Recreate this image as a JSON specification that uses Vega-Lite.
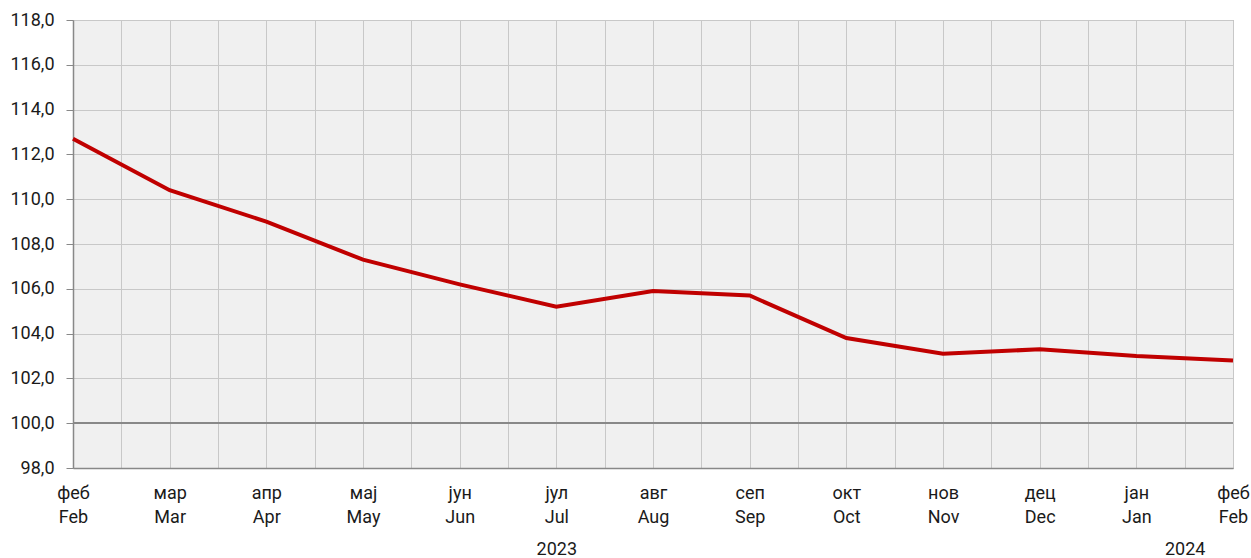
{
  "$schema": "https://vega.github.io/schema/vega-lite/v6.json",
  "width": 1160,
  "height": 448,
  "autosize": {"type": "none"},
  "padding": {"left": 73, "top": 20, "right": 18, "bottom": 90},
  "background": "#ffffff",
  "config": {
    "view": {"fill": "#f0f0f0", "stroke": "#999999", "strokeWidth": 1},
    "font": "Roboto, sans-serif",
    "axis": {
      "labelFont": "Roboto, sans-serif",
      "labelFontSize": 18,
      "labelFontWeight": "normal",
      "labelColor": "#1a1a1a",
      "gridColor": "#c8c8c8",
      "gridWidth": 1,
      "gridOpacity": 1,
      "domainColor": "#888888",
      "domainWidth": 1.5,
      "title": null
    }
  },
  "data": {
    "values": [
      {"i": 0, "month": "Feb 2023", "value": 112.7},
      {"i": 1, "month": "Mar 2023", "value": 110.4},
      {"i": 2, "month": "Apr 2023", "value": 109.0},
      {"i": 3, "month": "May 2023", "value": 107.3},
      {"i": 4, "month": "Jun 2023", "value": 106.2},
      {"i": 5, "month": "Jul 2023", "value": 105.2},
      {"i": 6, "month": "Aug 2023", "value": 105.9},
      {"i": 7, "month": "Sep 2023", "value": 105.7},
      {"i": 8, "month": "Oct 2023", "value": 103.8},
      {"i": 9, "month": "Nov 2023", "value": 103.1},
      {"i": 10, "month": "Dec 2023", "value": 103.3},
      {"i": 11, "month": "Jan 2024", "value": 103.0},
      {"i": 12, "month": "Feb 2024", "value": 102.8}
    ]
  },
  "resolve": {"axis": {"x": "independent"}},
  "layer": [
    {
      "mark": {"type": "line", "color": "#c00000", "strokeWidth": 4, "strokeJoin": "miter", "clip": false},
      "encoding": {
        "x": {
          "field": "i",
          "type": "quantitative",
          "scale": {"domain": [0, 12], "nice": false, "zero": false},
          "axis": {
            "orient": "bottom",
            "grid": true,
            "values": [0, 0.5, 1, 1.5, 2, 2.5, 3, 3.5, 4, 4.5, 5, 5.5, 6, 6.5, 7, 7.5, 8, 8.5, 9, 9.5, 10, 10.5, 11, 11.5, 12],
            "ticks": false,
            "labelPadding": 16,
            "labelLineHeight": 24,
            "labelFlush": false,
            "labelOverlap": false,
            "labelBound": false,
            "labelExpr": "datum.value % 1 != 0 ? '' : [['феб','мар','апр','мај','јун','јул','авг','сеп','окт','нов','дец','јан','феб'][datum.value], ['Feb','Mar','Apr','May','Jun','Jul','Aug','Sep','Oct','Nov','Dec','Jan','Feb'][datum.value]]"
          }
        },
        "y": {
          "field": "value",
          "type": "quantitative",
          "scale": {"domain": [98, 118], "nice": false, "zero": false},
          "axis": {
            "grid": true,
            "values": [98, 100, 102, 104, 106, 108, 110, 112, 114, 116, 118],
            "tickSize": 7,
            "tickColor": "#888888",
            "labelPadding": 12,
            "labelExpr": "replace(format(datum.value, '.1f'), '.', ',')"
          }
        }
      }
    },
    {
      "mark": {"type": "rule", "color": "#888888", "strokeWidth": 1.5},
      "encoding": {"y": {"datum": 100, "type": "quantitative"}}
    },
    {
      "mark": {"type": "line", "opacity": 0},
      "encoding": {
        "x": {
          "field": "i",
          "type": "quantitative",
          "axis": {
            "orient": "bottom",
            "values": [5, 11.5],
            "ticks": false,
            "domain": false,
            "grid": false,
            "labelPadding": 72,
            "labelFlush": false,
            "labelOverlap": false,
            "labelBound": false,
            "labelExpr": "datum.value == 5 ? '2023' : '2024'"
          }
        },
        "y": {"field": "value", "type": "quantitative"}
      }
    }
  ]
}
